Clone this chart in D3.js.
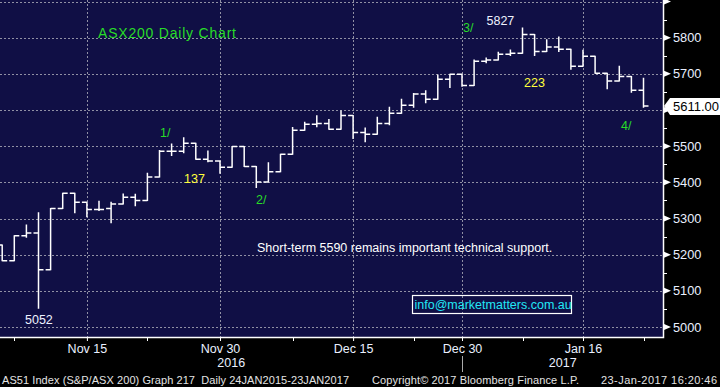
<!DOCTYPE html>
<html>
<head>
<meta charset="utf-8">
<script src="https://cdn.jsdelivr.net/npm/d3@7"></script>
<style>
  body { margin: 0; background: #000; }
  svg { display: block; font-family: 'Liberation Sans', Arial, sans-serif; }
</style>
</head>
<body>
<div id="chart"></div>
<script>
// ASX200 daily OHLC, Nov 2016 - Jan 2017
const dates = [
  '2016-11-04', '2016-11-07', '2016-11-08', '2016-11-09', '2016-11-10', '2016-11-11',
  '2016-11-14', '2016-11-15', '2016-11-16', '2016-11-17', '2016-11-18', '2016-11-21',
  '2016-11-22', '2016-11-23', '2016-11-24', '2016-11-25', '2016-11-28', '2016-11-29',
  '2016-11-30', '2016-12-01', '2016-12-02', '2016-12-05', '2016-12-06', '2016-12-07',
  '2016-12-08', '2016-12-09', '2016-12-12', '2016-12-13', '2016-12-14', '2016-12-15',
  '2016-12-16', '2016-12-19', '2016-12-20', '2016-12-21', '2016-12-22', '2016-12-23',
  '2016-12-28', '2016-12-29', '2016-12-30', '2017-01-03', '2017-01-04', '2017-01-05',
  '2017-01-06', '2017-01-09', '2017-01-10', '2017-01-11', '2017-01-12', '2017-01-13',
  '2017-01-16', '2017-01-17', '2017-01-18', '2017-01-19', '2017-01-20', '2017-01-23'
];
const opens = [
  5227, 5183, 5252, 5260, 5158, 5328, 5370, 5345, 5325, 5328, 5340, 5359,
  5350, 5415, 5486, 5486, 5508, 5464, 5459, 5442, 5499, 5444, 5401, 5429,
  5478, 5544, 5561, 5563, 5547, 5585, 5538, 5533, 5563, 5591, 5613, 5644,
  5630, 5685, 5699, 5668, 5735, 5738, 5754, 5757, 5809, 5762, 5774, 5768,
  5721, 5749, 5702, 5680, 5693, 5655
];
const highs = [
  5227, 5252, 5282, 5316, 5328, 5370, 5370, 5345, 5348, 5345, 5368, 5367,
  5425, 5488, 5506, 5523, 5508, 5487, 5459, 5499, 5499, 5444, 5454, 5478,
  5552, 5566, 5584, 5574, 5597, 5585, 5550, 5580, 5608, 5630, 5646, 5653,
  5697, 5699, 5699, 5738, 5744, 5760, 5766, 5827, 5809, 5794, 5802, 5768,
  5765, 5749, 5702, 5721, 5693, 5688
];
const lows = [
  5183, 5183, 5248, 5052, 5158, 5328, 5316, 5305, 5322, 5288, 5340, 5335,
  5350, 5415, 5474, 5482, 5464, 5457, 5425, 5442, 5444, 5386, 5401, 5429,
  5478, 5544, 5554, 5547, 5547, 5521, 5512, 5533, 5559, 5591, 5608, 5620,
  5630, 5662, 5666, 5668, 5731, 5738, 5751, 5757, 5751, 5762, 5762, 5713,
  5721, 5702, 5659, 5680, 5649, 5608
];
const closes = [
  5183, 5252, 5260, 5158, 5328, 5370, 5345, 5325, 5325, 5340, 5359, 5350,
  5415, 5486, 5486, 5508, 5464, 5459, 5442, 5499, 5444, 5401, 5429, 5478,
  5544, 5561, 5563, 5547, 5585, 5538, 5533, 5563, 5591, 5613, 5644, 5630,
  5685, 5699, 5668, 5735, 5738, 5754, 5757, 5809, 5762, 5774, 5768, 5721,
  5749, 5702, 5680, 5693, 5655, 5611
];

const yMajor = [5000, 5100, 5200, 5300, 5400, 5500, 5600, 5700, 5800, 5900];
// 5600 is hidden behind the last-price flag
const yLabels = [5000, 5100, 5200, 5300, 5400, 5500, 5700, 5800];
const yMinor = [5050, 5150, 5250, 5350, 5450, 5550, 5650, 5750, 5850];
const xMajor = ['2016-11-15', '2016-11-30', '2016-12-15', '2016-12-30', '2017-01-16'];
const xMajorText = ['Nov 15', 'Nov 30', 'Dec 15', 'Dec 30', 'Jan 16'];
const xMinor = ['2016-11-07', '2016-11-22', '2016-12-08', '2016-12-22', '2017-01-09', '2017-01-23'];
const years = ['2016', '2017'];
const yearBreak = '2016-12-30';
const lastPrice = 5611;

const width = 720;
const height = 387;
const plotRight = 663;
const plotBottom = 337;

const svg = d3
  .select('#chart')
  .append('svg')
  .attr('width', width)
  .attr('height', height);

svg.append('rect').attr('width', width).attr('height', height).attr('fill', '#000');
svg
  .append('rect')
  .attr('width', plotRight)
  .attr('height', plotBottom)
  .attr('fill', '#100f45');

const x = d3.scalePoint().domain(dates).range([2.2, 643.5]);
const y = d3.scaleLinear().domain([5000, 5800]).range([327, 37.7]);

// gridlines
const grid = svg
  .append('g')
  .attr('stroke', '#9090a4')
  .attr('stroke-width', 1)
  .attr('stroke-dasharray', '2,2')
  .attr('shape-rendering', 'crispEdges');
grid
  .selectAll('.hg')
  .data(yMajor)
  .join('line')
  .attr('x1', 0)
  .attr('x2', plotRight)
  .attr('y1', (d) => Math.round(y(d)) + 0.5)
  .attr('y2', (d) => Math.round(y(d)) + 0.5);
grid
  .selectAll('.vg')
  .data(xMajor)
  .join('line')
  .attr('x1', (d) => Math.round(x(d)) + 0.5)
  .attr('x2', (d) => Math.round(x(d)) + 0.5)
  .attr('y1', 0)
  .attr('y2', plotBottom);

// OHLC bars
const tick = 5;
svg
  .append('g')
  .attr('stroke', '#fff')
  .attr('stroke-width', 1.5)
  .attr('fill', 'none')
  .selectAll('path')
  .data(dates)
  .join('path')
  .attr('d', (d, i) => {
    const cx = x(d);
    return `M${cx},${y(highs[i]) - 0.5}V${y(lows[i]) + 0.5}` +
      `M${cx - tick},${y(opens[i])}H${cx}` +
      `M${cx},${y(closes[i])}H${cx + tick}`;
  });

// frame
svg
  .append('path')
  .attr('d', `M${plotRight + 0.5},0V${plotBottom + 0.5}H0`)
  .attr('stroke', '#fff')
  .attr('stroke-width', 1.5)
  .attr('fill', 'none');

// right axis
const yAxis = svg
  .append('g')
  .attr('transform', `translate(${plotRight},0)`)
  .call(d3.axisRight(y).tickValues(yLabels).tickSize(0).tickPadding(10).tickFormat(d3.format('d')));
yAxis.select('.domain').remove();
yAxis
  .selectAll('text')
  .attr('fill', '#eaf0ff')
  .style('font-size', '12.8px')
  .style('font-family', "'Liberation Sans', Arial, sans-serif");

svg
  .append('g')
  .selectAll('path')
  .data(yMajor)
  .join('path')
  .attr('d', (d) => `M${plotRight + 1},${y(d) - 3}L${plotRight + 8},${y(d)}L${plotRight + 1},${y(d) + 3}Z`)
  .attr('fill', '#fff');
svg
  .append('g')
  .attr('stroke', '#fff')
  .selectAll('line')
  .data(yMinor)
  .join('line')
  .attr('x1', plotRight)
  .attr('x2', plotRight + 4)
  .attr('y1', (d) => Math.round(y(d)) + 0.5)
  .attr('y2', (d) => Math.round(y(d)) + 0.5);

// last price flag
const lp = y(lastPrice);
svg
  .append('path')
  .attr('d', `M${plotRight + 1},${lp}L${plotRight + 7},${lp - 8}H${width}V${lp + 9}H${plotRight + 7}Z`)
  .attr('fill', '#fff');
svg
  .append('text')
  .attr('x', plotRight + 10)
  .attr('y', lp + 5)
  .attr('fill', '#000')
  .style('font-size', '13px')
  .text(d3.format('.2f')(lastPrice));

// bottom axis
const xAxis = svg
  .append('g')
  .attr('transform', `translate(0,${plotBottom})`)
  .call(
    d3
      .axisBottom(x)
      .tickValues(xMajor)
      .tickSize(4)
      .tickPadding(3)
      .tickFormat((d) => xMajorText[xMajor.indexOf(d)])
  );
xAxis.select('.domain').remove();
xAxis.selectAll('line').attr('stroke', '#fff');
xAxis
  .selectAll('text')
  .attr('fill', '#eaf0ff')
  .style('font-size', '12.5px')
  .style('font-family', "'Liberation Sans', Arial, sans-serif");

svg
  .append('g')
  .attr('stroke', '#fff')
  .selectAll('line')
  .data(xMinor)
  .join('line')
  .attr('x1', (d) => Math.round(x(d)) + 0.5)
  .attr('x2', (d) => Math.round(x(d)) + 0.5)
  .attr('y1', plotBottom)
  .attr('y2', plotBottom + 4);

// year row
const xb = Math.round(x(yearBreak)) + 0.5;
svg
  .append('line')
  .attr('x1', xb)
  .attr('x2', xb)
  .attr('y1', 356)
  .attr('y2', 372)
  .attr('stroke', '#aaa');
svg
  .selectAll('.year')
  .data(years)
  .join('text')
  .attr('x', (d, i) => (i === 0 ? xb / 2 : (xb + plotRight) / 2))
  .attr('y', 367)
  .attr('text-anchor', 'middle')
  .attr('fill', '#eaf0ff')
  .style('font-size', '12.5px')
  .text((d) => d);

// footer
const footer = svg.append('g').attr('fill', '#e4e4e4').style('font-size', '11px');
footer
  .append('text')
  .attr('x', 2)
  .attr('y', 384)
  .attr('textLength', 347)
  .text('AS51 Index (S&P/ASX 200) Graph 217\u00a0\u00a0Daily 24JAN2015-23JAN2017');
footer
  .append('text')
  .attr('x', 372)
  .attr('y', 384)
  .attr('textLength', 207)
  .text('Copyright\u00a9 2017 Bloomberg Finance L.P.');
footer
  .append('text')
  .attr('x', 601)
  .attr('y', 384)
  .attr('textLength', 116)
  .text('23-Jan-2017 16:20:46');

// annotations
const green = '#28dc28';
const yellow = '#ffff3c';
const note = (tx, ty, txt, color) =>
  svg
    .append('text')
    .attr('x', tx)
    .attr('y', ty)
    .attr('fill', color)
    .style('font-size', '12.5px')
    .text(txt);

note(98, 37.5, 'ASX200 Daily Chart', green).style('font-size', '14px').attr('textLength', 138);
note(x(dates[3]) - 13.5, y(lows[3]) + 16, '5052', '#eef2ff');
note(x(dates[43]) - 36, y(highs[43]) - 3, '5827', '#eef2ff');
note(463, 32, '3/', green);
note(524, 86.5, '223', yellow);
note(160, 136.5, '1/', green);
note(184, 182.5, '137', yellow);
note(256, 204, '2/', green);
note(621, 130, '4/', green);
note(257, 251.5, 'Short-term 5590 remains important technical support.', '#fff');

svg
  .append('rect')
  .attr('x', 412.5)
  .attr('y', 295.5)
  .attr('width', 159)
  .attr('height', 18)
  .attr('fill', 'none')
  .attr('stroke', '#fff')
  .attr('stroke-width', 1.2);
note(414.5, 309, 'info@marketmatters.com.au', '#22e8f5');
</script>
</body>
</html>
